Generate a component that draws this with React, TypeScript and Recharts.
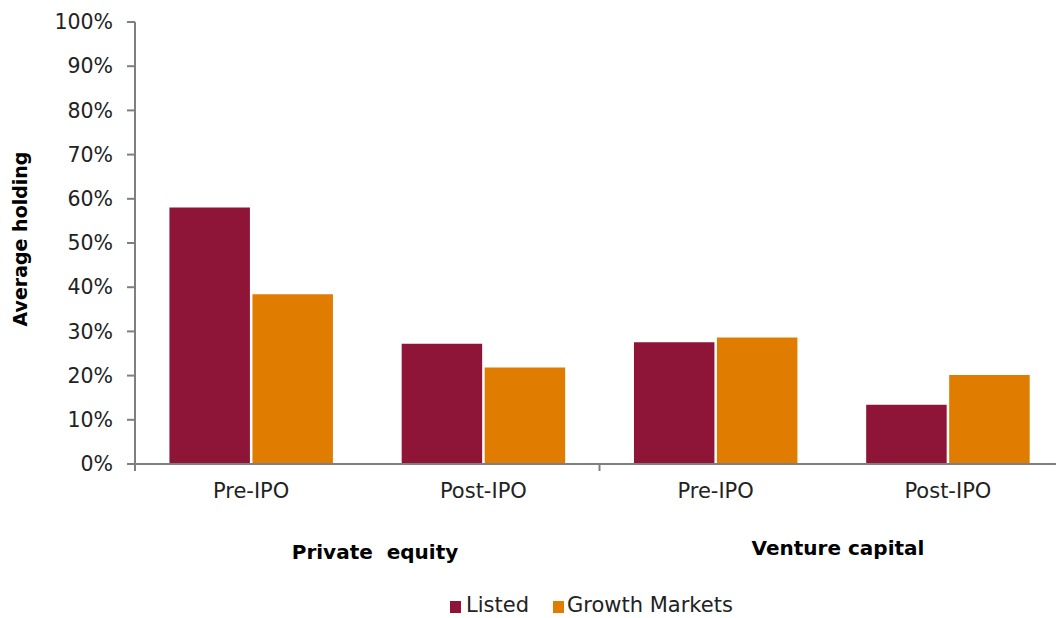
import { BarChart, Bar, XAxis, YAxis } from "recharts";

const CATEGORIES = ["Pre-IPO", "Post-IPO", "Pre-IPO", "Post-IPO"];
const LISTED = [0.582, 0.274, 0.277, 0.136];
const GROWTH = [0.386, 0.22, 0.288, 0.203];
const Y_TICKS = [0, 0.1, 0.2, 0.3, 0.4, 0.5, 0.6, 0.7, 0.8, 0.9, 1];
const GROUPS = ["Private  equity", "Venture capital"];

const LISTED_COLOR = "#8e1537";
const GROWTH_COLOR = "#e07c00";
const AXIS_COLOR = "#7f7f7f";
const FONT = "'DejaVu Sans', Verdana, sans-serif";

const data = CATEGORIES.map((c, i) => ({ cat: c, listed: LISTED[i], growth: GROWTH[i] }));

// category label plus a tick line on the left boundary of every group of two
function CatTick(props: any) {
  const { x, y, payload, index } = props;
  const half = payload?.offset ?? 116;
  return (
    <g>
      {index % 2 === 0 && (
        <line x1={x - half} x2={x - half} y1={y - 1} y2={y + 7} stroke={AXIS_COLOR} strokeWidth={2} />
      )}
      <text x={x} y={y + 34} textAnchor="middle" fontSize={21} fill="#222" fontFamily={FONT}>
        {payload.value}
      </text>
    </g>
  );
}

export default function App() {
  return (
    <div style={{ position: "fixed", left: 0, top: 0, width: 1056, height: 618, overflow: "hidden", background: "#fff" }}>
      <BarChart
        width={1064}
        height={618}
        data={data}
        margin={{ top: 22, right: 0, bottom: 114, left: 55 }}
        barCategoryGap="14.5%"
        barGap={1}
      >
        <XAxis
          dataKey="cat"
          tick={<CatTick />}
          tickLine={false}
          tickSize={0}
          tickMargin={0}
          height={40}
          interval={0}
          stroke={AXIS_COLOR}
          strokeWidth={2}
        />
        <YAxis
          domain={[0, 1]}
          ticks={Y_TICKS}
          width={80}
          tickSize={8}
          tickMargin={14}
          interval={0}
          tickFormatter={(v: number) => `${Math.round(v * 100)}%`}
          tick={{ fontSize: 20.5, fill: "#222", fontFamily: FONT }}
          stroke={AXIS_COLOR}
          strokeWidth={2}
        />
        <Bar dataKey="listed" name="Listed" fill={LISTED_COLOR} stroke="#fff" strokeWidth={1.5} isAnimationActive={false} />
        <Bar dataKey="growth" name="Growth Markets" fill={GROWTH_COLOR} stroke="#fff" strokeWidth={1.5} isAnimationActive={false} />
      </BarChart>
      <svg width={1056} height={618} style={{ position: "absolute", left: 0, top: 0, pointerEvents: "none" }} fontFamily={FONT}>
        <text x={27} y={239} transform="rotate(-90 27 239)" textAnchor="middle" fontSize={19} fontWeight="bold" fill="#000">
          Average holding
        </text>
        <text x={375} y={559} textAnchor="middle" fontSize={20} fontWeight="bold" fill="#000" xmlSpace="preserve">
          {GROUPS[0]}
        </text>
        <text x={838} y={555} textAnchor="middle" fontSize={20} fontWeight="bold" fill="#000">
          {GROUPS[1]}
        </text>
        <rect x={450} y={601} width={11} height={12} fill={LISTED_COLOR} />
        <text x={466} y={612} fontSize={21} fill="#222">Listed</text>
        <rect x={553} y={601} width={11} height={12} fill={GROWTH_COLOR} />
        <text x={567} y={612} fontSize={21} fill="#222">Growth Markets</text>
      </svg>
    </div>
  );
}
